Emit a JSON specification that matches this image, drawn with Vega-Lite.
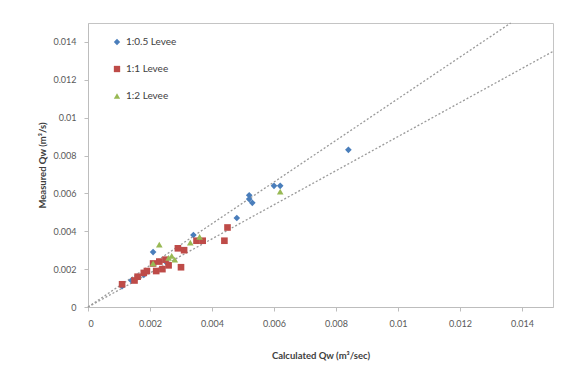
{
  "$schema": "https://vega.github.io/schema/vega-lite/v6.json",
  "width": 465,
  "height": 284,
  "autosize": "none",
  "padding": {"left": 88, "top": 23, "right": 23, "bottom": 76},
  "background": "white",
  "config": {
    "font": "Lato",
    "view": {"stroke": "#c4c4c4", "strokeWidth": 1},
    "axis": {
      "grid": false,
      "domainColor": "#bdbdbd",
      "tickColor": "#bdbdbd",
      "tickSize": 4,
      "labelColor": "#595959",
      "labelFont": "Lato",
      "labelFontSize": 9,
      "titleFont": "Lato",
      "titleFontSize": 9.5,
      "titleFontWeight": "bold",
      "titleColor": "#404040"
    }
  },
  "datasets": {
    "points": [
      {"series": "1:0.5 Levee", "calc": 0.0011, "meas": 0.0011},
      {"series": "1:0.5 Levee", "calc": 0.0014, "meas": 0.0014},
      {"series": "1:0.5 Levee", "calc": 0.0016, "meas": 0.0016},
      {"series": "1:0.5 Levee", "calc": 0.0018, "meas": 0.0017},
      {"series": "1:0.5 Levee", "calc": 0.0021, "meas": 0.0029},
      {"series": "1:0.5 Levee", "calc": 0.0025, "meas": 0.0024},
      {"series": "1:0.5 Levee", "calc": 0.0034, "meas": 0.0038},
      {"series": "1:0.5 Levee", "calc": 0.0048, "meas": 0.0047},
      {"series": "1:0.5 Levee", "calc": 0.0052, "meas": 0.0059},
      {"series": "1:0.5 Levee", "calc": 0.0052, "meas": 0.0057},
      {"series": "1:0.5 Levee", "calc": 0.0053, "meas": 0.0055},
      {"series": "1:0.5 Levee", "calc": 0.0060, "meas": 0.0064},
      {"series": "1:0.5 Levee", "calc": 0.0062, "meas": 0.0064},
      {"series": "1:0.5 Levee", "calc": 0.0084, "meas": 0.0083},
      {"series": "1:1 Levee", "calc": 0.0011, "meas": 0.0012},
      {"series": "1:1 Levee", "calc": 0.0015, "meas": 0.0014},
      {"series": "1:1 Levee", "calc": 0.0016, "meas": 0.0016},
      {"series": "1:1 Levee", "calc": 0.0018, "meas": 0.0018},
      {"series": "1:1 Levee", "calc": 0.0019, "meas": 0.0019},
      {"series": "1:1 Levee", "calc": 0.0022, "meas": 0.0019},
      {"series": "1:1 Levee", "calc": 0.0021, "meas": 0.0023},
      {"series": "1:1 Levee", "calc": 0.0023, "meas": 0.0024},
      {"series": "1:1 Levee", "calc": 0.0024, "meas": 0.0020},
      {"series": "1:1 Levee", "calc": 0.0026, "meas": 0.0022},
      {"series": "1:1 Levee", "calc": 0.0025, "meas": 0.0025},
      {"series": "1:1 Levee", "calc": 0.0029, "meas": 0.0031},
      {"series": "1:1 Levee", "calc": 0.0031, "meas": 0.0030},
      {"series": "1:1 Levee", "calc": 0.0030, "meas": 0.0021},
      {"series": "1:1 Levee", "calc": 0.0035, "meas": 0.0035},
      {"series": "1:1 Levee", "calc": 0.0037, "meas": 0.0035},
      {"series": "1:1 Levee", "calc": 0.0044, "meas": 0.0035},
      {"series": "1:1 Levee", "calc": 0.0045, "meas": 0.0042},
      {"series": "1:2 Levee", "calc": 0.0021, "meas": 0.0023},
      {"series": "1:2 Levee", "calc": 0.0023, "meas": 0.0033},
      {"series": "1:2 Levee", "calc": 0.0026, "meas": 0.0026},
      {"series": "1:2 Levee", "calc": 0.0027, "meas": 0.0027},
      {"series": "1:2 Levee", "calc": 0.0028, "meas": 0.0025},
      {"series": "1:2 Levee", "calc": 0.0033, "meas": 0.0034},
      {"series": "1:2 Levee", "calc": 0.0036, "meas": 0.0037},
      {"series": "1:2 Levee", "calc": 0.0062, "meas": 0.0061}
    ],
    "bands": [
      {"band": "+10%", "calc": 0, "meas": 0},
      {"band": "+10%", "calc": 0.013636, "meas": 0.015},
      {"band": "-10%", "calc": 0, "meas": 0},
      {"band": "-10%", "calc": 0.015, "meas": 0.0135}
    ]
  },
  "layer": [
    {
      "data": {"name": "bands"},
      "mark": {"type": "line", "color": "#9a9a9a", "strokeWidth": 1.3, "strokeDash": [2, 2]},
      "encoding": {
        "x": {"field": "calc", "type": "quantitative"},
        "y": {"field": "meas", "type": "quantitative"},
        "detail": {"field": "band"}
      }
    },
    {
      "data": {"name": "points"},
      "mark": {"type": "point", "filled": true, "opacity": 1, "size": 44},
      "encoding": {
        "x": {
          "field": "calc",
          "type": "quantitative",
          "scale": {"domain": [0, 0.015], "nice": false},
          "axis": {
            "values": [0, 0.002, 0.004, 0.006, 0.008, 0.01, 0.012, 0.014],
            "format": "~g",
            "labelPadding": 8,
            "titlePadding": 22
          },
          "title": "Calculated Qw (m³/sec)"
        },
        "y": {
          "field": "meas",
          "type": "quantitative",
          "scale": {"domain": [0, 0.015], "nice": false},
          "axis": {
            "values": [0, 0.002, 0.004, 0.006, 0.008, 0.01, 0.012, 0.014],
            "format": "~g",
            "labelPadding": 8,
            "titlePadding": 5
          },
          "title": "Measured Qw (m³/s)"
        },
        "color": {
          "field": "series",
          "type": "nominal",
          "scale": {
            "domain": ["1:0.5 Levee", "1:1 Levee", "1:2 Levee"],
            "range": ["#4a7ebb", "#be4b48", "#98b954"]
          },
          "legend": {
            "title": null,
            "orient": "none",
            "legendX": 24,
            "legendY": 14,
            "rowPadding": 17,
            "labelFontSize": 10,
            "labelColor": "#404040",
            "symbolSize": 40
          }
        },
        "shape": {
          "field": "series",
          "type": "nominal",
          "scale": {
            "domain": ["1:0.5 Levee", "1:1 Levee", "1:2 Levee"],
            "range": ["diamond", "square", "triangle-up"]
          },
          "legend": null
        }
      }
    }
  ]
}
